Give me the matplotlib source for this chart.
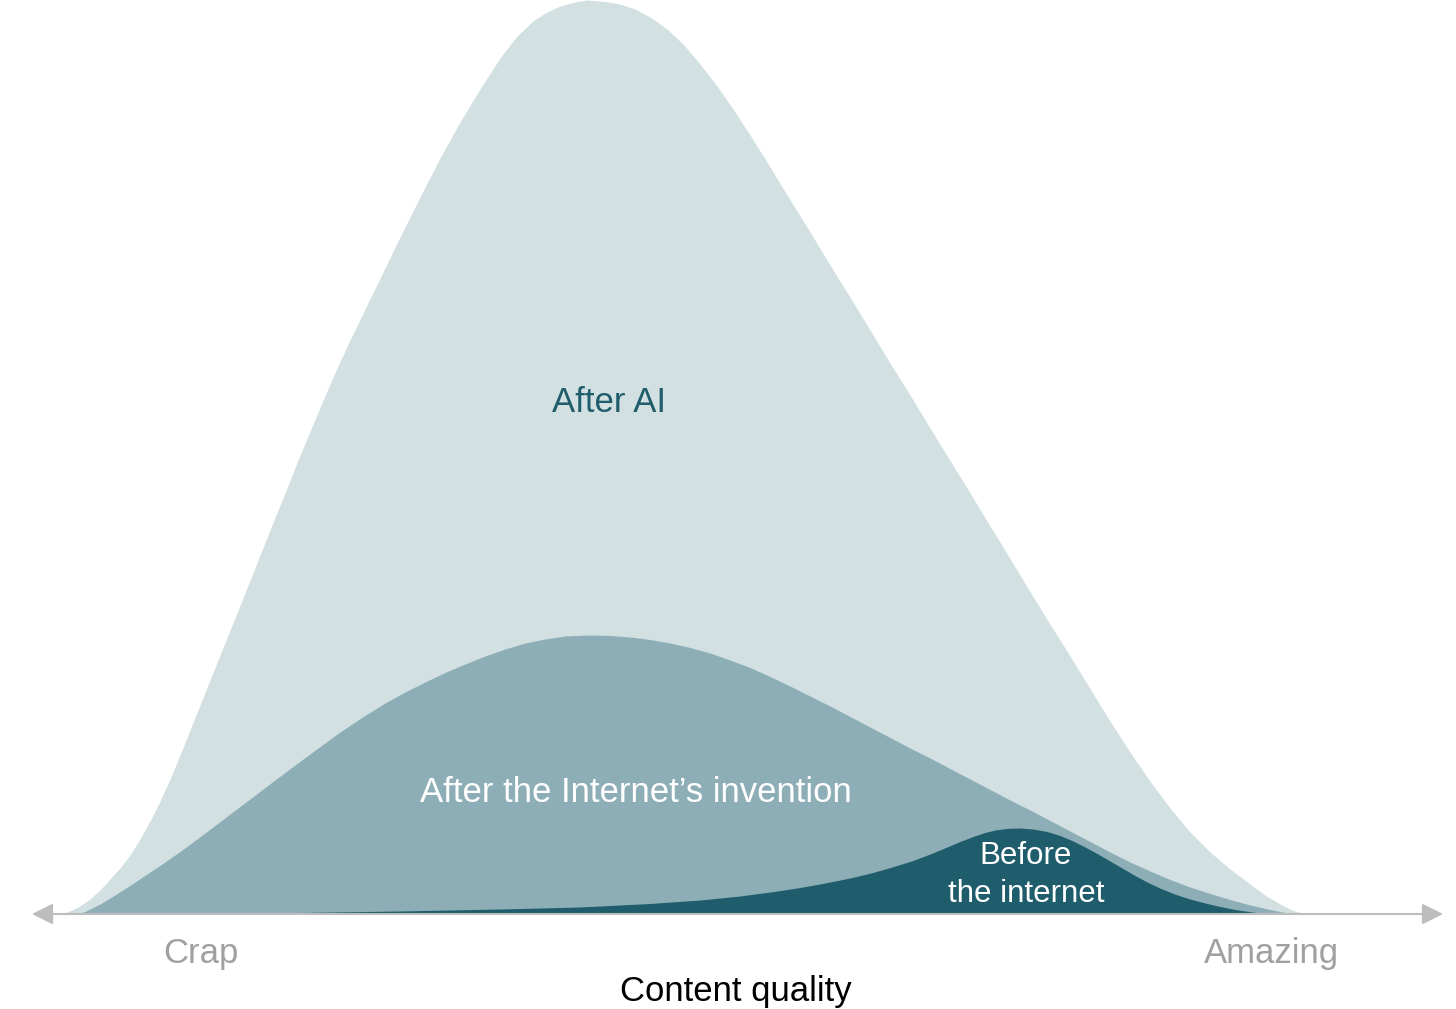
import matplotlib.pyplot as plt

# curves: x = content quality position, y = amount of content
ai_x = [55, 64, 72, 80, 90, 100, 110, 120, 130, 140, 150, 160, 171, 184, 196, 210, 222, 235,
        247, 260, 272, 285, 298, 311, 324, 337, 350, 367, 385, 403, 421, 440, 460, 480, 500,
        517, 533, 547, 560, 575, 587, 605, 620, 635, 650, 667, 683, 700, 717, 733, 750, 767,
        787, 807, 827, 848, 870, 890, 910, 930, 946, 967, 987, 1006, 1026, 1048, 1070, 1089,
        1108, 1130, 1152, 1170, 1190, 1210, 1230, 1250, 1265, 1280, 1292, 1305]
ai_y = [0, 1, 4, 8, 15, 24, 35, 46, 59, 75, 93, 113, 137, 169, 199, 234, 264, 296,
        326, 359, 389, 421, 454, 485, 516, 546, 574, 609, 646, 683, 719, 756, 792, 825, 856,
        878, 893, 902, 908, 912, 914, 912.5, 910, 905, 897, 885, 870, 850, 828, 805, 779, 752,
        719, 687, 654, 620, 584, 551, 519, 486, 460, 426, 393, 362, 329, 293, 258, 227,
        196, 162, 130, 106, 82, 62, 45, 30, 19, 10, 4, 0]

net_x = [78, 86, 100, 115, 132, 150, 165, 182, 205, 230, 250, 271, 295, 318, 340, 364, 385,
         405, 425, 445, 465, 485, 505, 525, 545, 565, 590, 610, 630, 650, 670, 690, 710, 730,
         750, 770, 790, 810, 830, 850, 870, 890, 910, 930, 950, 970, 990, 1010, 1030, 1050,
         1070, 1090, 1110, 1130, 1150, 1170, 1190, 1210, 1230, 1250, 1270, 1285, 1300]
net_y = [0, 3, 10, 19, 30, 42, 52, 64, 81, 100, 115, 131, 149, 166, 182, 198, 211,
         222, 232, 241.5, 250, 258, 265, 271, 275, 278, 279, 278.5, 277, 274.5, 271, 266.5, 261, 254,
         246.5, 237.5, 228, 218, 208, 197.5, 187, 176.5, 166, 156, 145.5, 135, 124.5, 114, 104, 93.5,
         83, 72.5, 62, 52, 43, 34.5, 27, 20.5, 14.5, 9, 4.5, 1.5, 0]

pre_x = [85, 200, 300, 400, 500, 580, 650, 700, 740, 774, 800, 825, 850, 871, 892, 913, 930,
         947, 960, 973, 985, 995, 1008, 1020, 1033, 1047, 1060, 1072, 1085, 1097, 1110, 1122,
         1135, 1148, 1162, 1176, 1190, 1205, 1220, 1235, 1252, 1270]
pre_y = [0, 0.5, 1.5, 3, 5, 7, 10.5, 14, 18, 22.5, 26.5, 31, 36, 41, 47, 53.5, 60,
         67, 72.5, 77.5, 81.5, 84, 85.7, 86, 85, 82.5, 78.5, 73.5, 67, 60.5, 53, 46,
         38.5, 31.5, 25, 19.5, 15, 11, 7.5, 4.5, 2, 0]

light = '#d2e0e2'
mid = '#8eaeb7'
dark = '#1f5d6c'

plt.rcParams['font.family'] = ['Liberation Sans', 'DejaVu Sans']

fig = plt.figure(figsize=(14.56, 10.09), dpi=100)
ax = fig.add_axes([0, 0, 1, 1])
ax.set_xlim(0, 1456)
ax.set_ylim(-95, 914)
ax.axis('off')

ax.fill_between(ai_x, ai_y, 0, color=light, lw=0)
ax.fill_between(net_x, net_y, 0, color=mid, lw=0)
ax.fill_between(pre_x, pre_y, 0, color=dark, lw=0)

ax.annotate('', xy=(1443, 0), xytext=(32, 0),
            arrowprops=dict(arrowstyle='<|-|>', color='#bdbdbd', lw=1.5,
                            mutation_scale=32, shrinkA=0, shrinkB=0))

ax.text(609, 512, 'After AI', color=dark, fontsize=25, ha='center', va='center')
ax.text(636, 122, 'After the Internet\u2019s invention', color='white', fontsize=25,
        ha='center', va='center')
ax.text(1026, 39, 'Before\nthe internet', color='white', fontsize=22.5, ha='center',
        va='center', linespacing=1.37)

ax.text(201, -40, 'Crap', color='#a0a0a0', fontsize=25, ha='center', va='center')
ax.text(1271, -40, 'Amazing', color='#a0a0a0', fontsize=25, ha='center', va='center')
ax.text(736, -78, 'Content quality', color='black', fontsize=25, ha='center', va='center')

fig.savefig('out.png', dpi=100)
